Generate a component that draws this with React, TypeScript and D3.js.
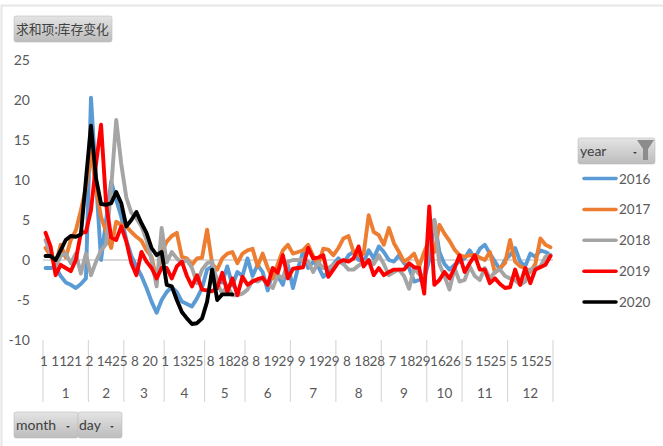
import React from "react";
import * as d3 from "d3";

const years = ["2016", "2017", "2018", "2019", "2020"];
const colors = ["#5b9bd5", "#ed7d31", "#a5a5a5", "#ff0000", "#000000"];
const yTicks = [25, 20, 15, 10, 5, 0, -5, -10];
const dayLabels = ["1","11","21","2","14","25","8","20","1","13","25","8","18","28","8","19","29","9","19","29","8","18","28","7","18","29","16","26","5","15","25","5","15","25"];
const months = ["1","2","3","4","5","6","7","8","9","10","11","12"];
const monthCounts = [9,7,8,8,8,9,9,9,9,7,9,9];

const s2016 = [-1,-1,-0.9,-2,-2.8,-3.1,-3.5,-3,-2.3,20.3,10,0,5,9.8,7.5,5.4,2.5,0.5,-0.8,-2,-3.5,-5.2,-6.6,-5,-4,-3.4,-4,-5.2,-5.5,-5.8,-4.8,-3.5,-1.2,-0.8,-2.5,-2.8,-0.8,-3.2,-1.5,-2,0.2,-2,-0.6,-1.5,-3.8,-1.5,-2,-3.1,-0.6,-3.5,-1,1,-1,-0.2,-0.8,-2.1,-1.5,-0.5,0.2,-0.5,0.6,1,0,-0.2,1.2,0.2,1.7,1,0,-0.2,0.6,-0.4,-1,-2.7,-2.5,-2.3,0,5,1,-0.5,-1.2,-0.6,-0.2,0.2,1.2,0.2,1.4,1.9,0.8,-0.2,-1.2,0,0.6,1.5,-0.2,-0.8,0.8,0.4,1.2,1,0.6];
const s2017 = [1.5,0.5,-0.5,1.9,0.3,2.5,3.7,6.2,9,13.5,9,5.4,3.5,1.5,4.8,4.4,4.2,3.5,2.9,2.4,1.2,0.4,-2.5,1,2.3,3,3.4,0.4,0.2,-0.6,0.2,0.3,3.8,-0.5,-1.2,0.2,0.8,1,-0.4,0.8,1.2,1.4,-0.8,0.8,-1,-2.3,-0.5,1.2,1.9,0.8,1,1.2,1.9,0.5,-0.6,1.4,1.3,0.6,1.5,2.7,3,1,0.6,0.8,5.6,3.5,3.1,1.9,4,2.1,1,-0.2,0.2,0.8,-0.8,1,2.5,1,4.4,3.3,2.4,1.3,0.6,0.4,0.6,0.6,0.3,0,1,-1.6,-1,-0.4,2.5,-0.2,-0.8,-1,-1.5,-0.5,2.7,1.9,1.6];
const s2018 = [2.5,0.8,-0.8,0.5,0.8,-0.4,0.8,-1.7,0.8,-1.9,-0.2,1.2,2,9,17.5,12,7.8,5.9,5.2,4.2,2.5,0,-3.3,4,-0.3,1,0.2,-0.4,0,-1,-2.9,-1.2,-0.4,-0.2,-2.9,-4.2,-3.2,-4.4,-4.4,-4.2,-3.7,-2.5,-2.7,-2.3,-3,-3.5,-1.9,-2.3,-0.2,0,0,0.1,-0.2,-1.5,-0.3,-1,-1,-0.6,-0.2,-0.5,-1.2,-1.2,-0.7,-0.3,0,-0.5,0.6,-0.5,-1.9,-1.5,-1.2,-2,-3.6,-1,-1.8,-2,2,5,-0.5,-2,-3.7,-1,-2.7,-2.5,-0.8,-2,-2.5,-1,-2.3,-1.5,-1.2,-2,-2.3,-2.5,-3.1,-2.7,-1.2,-1,-0.8,0.4,0.6];
const s2019 = [3.4,1.7,-1.9,-0.6,-1,-1.4,0,3.4,3.5,6.2,12,16.9,7,2.8,2.5,4.2,2.3,-0.4,-1.9,1,-0.2,-1,-2.3,-1,-1,-2.3,-0.8,-0.2,-2,-3.3,-1.9,-3.7,-3.8,-3.9,-3.5,-1.6,-4,-2.3,-4.4,-2.1,-3.1,-2.7,-2.4,-2.2,-3.1,-1,-1.6,0.6,-2.3,-1.1,-1,-0.9,1.5,0.2,0.3,0.6,-2.1,-1.2,-0.3,0,-0.2,0.2,1.7,-0.8,0,-1.9,-1,-1.9,-1.5,-1.2,-1.2,-1.2,-0.4,-0.9,-1,-4.2,6.7,-3.1,-2.5,-1.5,-2.3,-1,0.6,-1.5,-0.4,0.6,-1.2,-1.2,-2.9,-2.3,-3,-3.5,-3.4,-1.2,-3.1,-1,-2.9,-1.2,-0.9,-0.6,0.5];
const s2020 = [0.5,0.5,0,1.2,2.5,3,2.9,3.2,10,16.8,10.2,7,6.9,7.1,8.5,7.1,4.2,5,6,4.6,3.4,1.5,0.6,1,-3.1,-3.3,-5,-6.5,-7.3,-8,-7.9,-7.3,-5.2,-1.2,-5,-4.3,-4.3,-4.3];
const seriesValues = [s2016, s2017, s2018, s2019, s2020];

const W = 663, H = 446;
const categories = d3.range(101);
const x = d3.scaleBand<number>().domain(categories).range([43, 553]);
const y = d3.scaleLinear().domain([-10, 25]).range([340, 60]);
const cx = (i: number) => (x(i) as number) + x.bandwidth() / 2;
const line = d3.line<number>().x((_, i) => cx(i)).y((v) => y(v));

const font = "Lato, 'Noto Sans CJK SC', sans-serif";
const textColor = "#595959";

function Button({ x: bx, y: by, w, h, label, arrow, funnel, size = 14, dx = 2 }: any) {
  return (
    <g>
      <rect x={bx} y={by} width={w} height={h} rx={2} fill="url(#btn)" stroke="#bdbdbd" strokeWidth={0.6} />
      <text x={bx + dx} y={by + h / 2 + 5} fontSize={size} fill="#404040" fontFamily={font}>{label}</text>
      {arrow != null && <path d={`M${arrow - 2},${by + h / 2 + 1}h4l-2,2z`} fill="#404040" />}
      {funnel && <path d={`M${bx + w - 18},${by + 2}h17l-6,9v11h-5v-11z`} fill="#8c8c8c" />}
    </g>
  );
}

export default function App() {
  let cum = 0;
  const monthSpans = monthCounts.map((c) => {
    const s = cum;
    cum += c;
    return [s, cum];
  });
  const edge = (i: number) => (i >= 101 ? 553 : (x(i) as number));
  return (
    <svg width={W} height={H} style={{ position: "absolute", left: 0, top: 0, background: "#fff" }}>
      <defs>
        <linearGradient id="btn" x1="0" y1="0" x2="0" y2="1">
          <stop offset="0" stopColor="#e4e4e4" />
          <stop offset="1" stopColor="#bcbcbc" />
        </linearGradient>
      </defs>
      <path d={`M1.5,${H}V5.5H${W}`} fill="none" stroke="#e6e6e6" strokeWidth={2} />
      {yTicks.map((t) => (
        <text key={t} x={30} y={y(t) + 5} textAnchor="end" fontSize={14} fill={textColor} fontFamily={font}>{t}</text>
      ))}
      <line x1={43} x2={553} y1={y(0)} y2={y(0)} stroke="#d9d9d9" strokeWidth={2} />
      {monthSpans.map(([s, e], k) => (
        <g key={k}>
          {k === 0 && <line x1={edge(0)} x2={edge(0)} y1={340} y2={402} stroke="#d9d9d9" strokeWidth={1.2} />}
          <line x1={edge(e)} x2={edge(e)} y1={340} y2={402} stroke="#d9d9d9" strokeWidth={1.2} />
          <text x={(edge(s) + edge(e)) / 2} y={398} textAnchor="middle" fontSize={13.5} fill={textColor} fontFamily={font}>{months[k]}</text>
        </g>
      ))}
      {dayLabels.map((d, k) => (
        <text key={k} x={cx(k * 3) - 1.5} y={366} textAnchor="middle" fontSize={13.5} fill={textColor} fontFamily={font}>{d}</text>
      ))}
      {seriesValues.map((vals, k) => (
        <path key={k} d={line(vals) as string} fill="none" stroke={colors[k]} strokeWidth={3.9} strokeLinejoin="round" strokeLinecap="round" />
      ))}
      {years.map((yr, k) => {
        const ly = 178.5 + k * 30.9;
        return (
          <g key={yr}>
            <line x1={584} x2={616} y1={ly} y2={ly} stroke={colors[k]} strokeWidth={3.5} strokeLinecap="round" />
            <text x={619} y={ly + 5} fontSize={13.5} fill={textColor} fontFamily={font}>{yr}</text>
          </g>
        );
      })}
      <Button x={14} y={16} w={98} h={26} label="求和项:库存变化" size={12.8} />
      <Button x={578} y={138} w={77} h={26} label="year" arrow={635} funnel />
      <Button x={14} y={412} w={64} h={26} label="month" arrow={68} />
      <Button x={78} y={412} w={44} h={26} label="day" arrow={112} dx={1} />
    </svg>
  );
}
